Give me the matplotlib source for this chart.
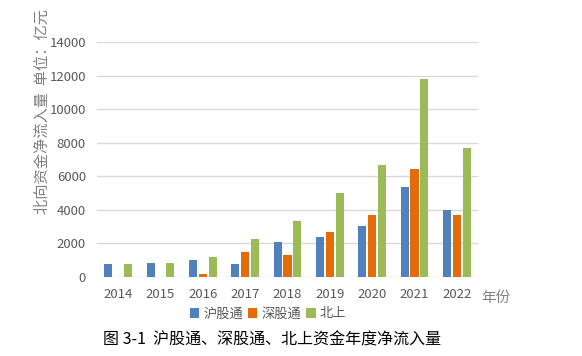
import matplotlib
matplotlib.use("Agg")
import matplotlib.pyplot as plt
import numpy as np

plt.rcParams['font.family'] = ['Noto Sans CJK SC', 'DejaVu Sans']

years = ['2014', '2015', '2016', '2017', '2018', '2019', '2020', '2021', '2022']
series_names = ['沪股通', '深股通', '北上']
hgt = [780, 830, 1010, 800, 2100, 2380, 3050, 5360, 4020]
sgt = [0, 0, 180, 1490, 1300, 2680, 3670, 6450, 3700]
north = [780, 830, 1200, 2260, 3350, 5000, 6700, 11800, 7700]
colors = ['#4F81BD', '#E36C09', '#9BBB59']
yticks = [0, 2000, 4000, 6000, 8000, 10000, 12000, 14000]

fig = plt.figure(figsize=(5.82, 3.56), dpi=100)
ax = fig.add_axes([97/582, 1-277/356, (478-97)/582, (277-42)/356])

x = np.arange(len(years))
w = 0.19
off = 0.23
for i, (vals, c, name) in enumerate(zip([hgt, sgt, north], colors, series_names)):
    ax.bar(x + (i-1)*off, vals, width=w, color=c, label=name, zorder=3)

ax.set_xlim(-0.5, len(years)-0.5)
ax.set_ylim(0, 14000)
ax.set_yticks(yticks)
ax.set_xticks(x)
ax.set_xticklabels(years)
ax.grid(axis='y', color='#D9D9D9', linewidth=1, zorder=0)
for s in ax.spines.values():
    s.set_visible(False)
ax.tick_params(axis='both', length=0, labelsize=9.5, colors='#595959', pad=8)
ax.tick_params(axis='x', pad=8)

fig.text(42/582, 1-112/356, '北向资金净流入量  单位：亿元', rotation=90, ha='center', va='center',
         fontsize=11, color='#808080')
fig.text(496/582, 1-298/356, '年份', ha='center', va='center', fontsize=10.5, color='#808080')

leg = fig.legend(loc='center', bbox_to_anchor=(268/582, 1-314/356), ncol=3, frameon=False,
                 fontsize=9.5, handlelength=0.7, handleheight=0.7, handletextpad=0.3,
                 columnspacing=0.4, borderaxespad=0)
for t in leg.get_texts():
    t.set_color('#595959')

fig.text(272/582, 1-340/356, '图 3-1  沪股通、深股通、北上资金年度净流入量', ha='center', va='center',
         fontsize=11.5, color='#000000')

fig.savefig('out.png', dpi=100)
